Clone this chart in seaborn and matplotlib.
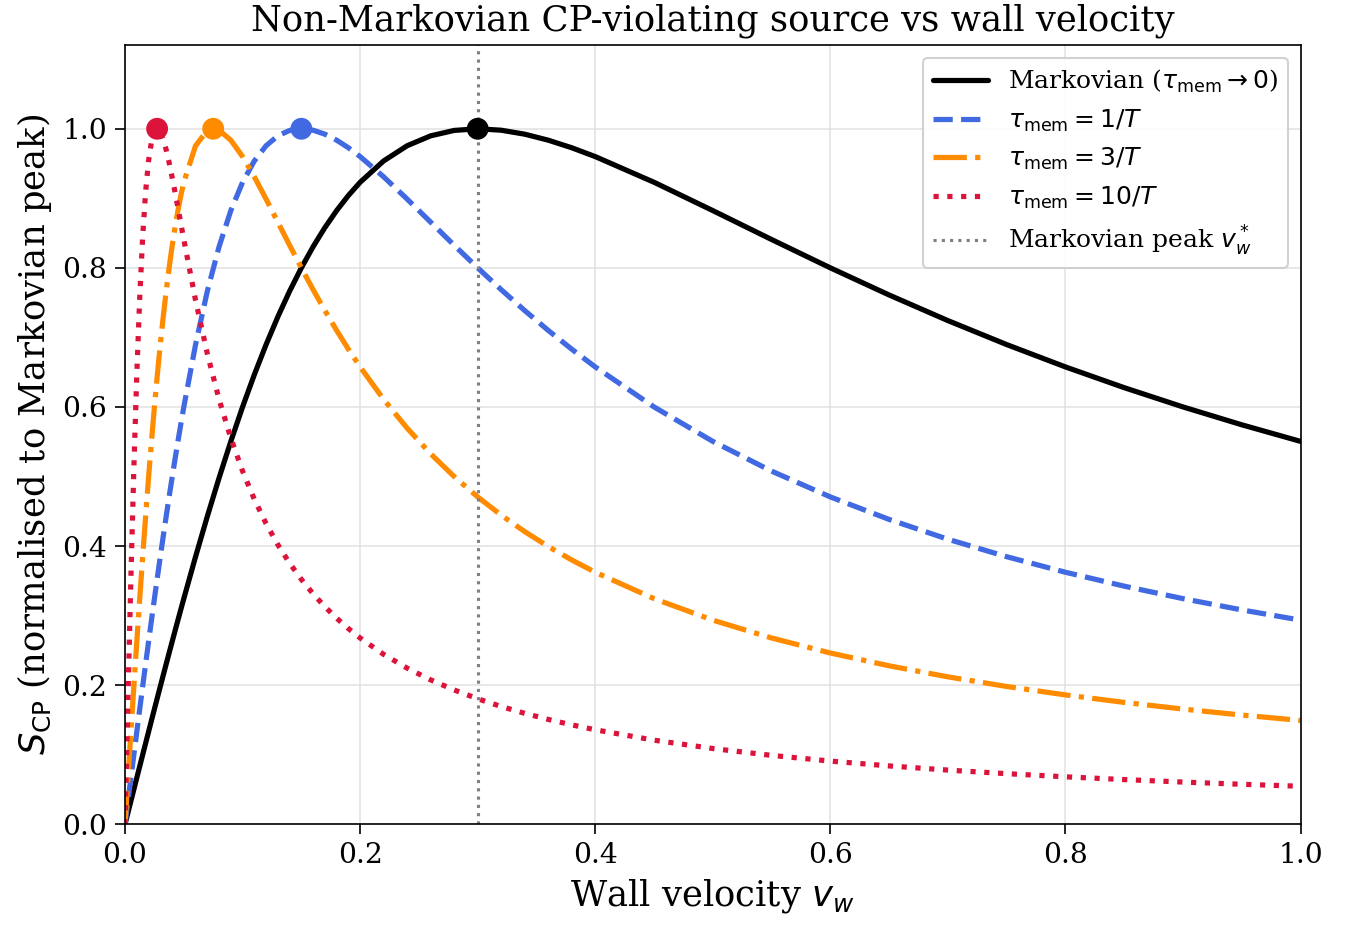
import matplotlib
matplotlib.use("Agg")
import matplotlib.pyplot as plt
import seaborn as sns
import pandas as pd

# Wall velocity samples
v_w = [0, 0.0025, 0.005, 0.0075, 0.01, 0.0125, 0.015, 0.0175, 0.02, 0.0225, 0.025,
       0.0275, 0.03, 0.0325, 0.035, 0.0375, 0.04, 0.0425, 0.045, 0.0475, 0.05,
       0.06, 0.07, 0.08, 0.09, 0.10, 0.11, 0.12, 0.13, 0.14, 0.15, 0.16, 0.17,
       0.18, 0.19, 0.20,
       0.22, 0.24, 0.26, 0.28, 0.30, 0.32, 0.34, 0.36, 0.38, 0.40,
       0.45, 0.50, 0.55, 0.60, 0.65, 0.70, 0.75, 0.80, 0.85, 0.90, 0.95, 1.00]

s_markov = [0, 0.01667, 0.03332, 0.04997, 0.06659, 0.08319, 0.09975, 0.11627, 0.13274, 0.14916, 0.16552,
            0.18181, 0.19802, 0.21415, 0.23020, 0.24615, 0.26201, 0.27776, 0.29340, 0.30892, 0.32432,
            0.38462, 0.44257, 0.49793, 0.55046, 0.60000, 0.64643, 0.68966, 0.72966, 0.76642, 0.80000,
            0.83045, 0.85786, 0.88235, 0.90404, 0.92308,
            0.95376, 0.97561, 0.98985, 0.99762, 1.00000, 0.99792, 0.99222, 0.98361, 0.97270, 0.96000,
            0.92308, 0.88235, 0.84076, 0.80000, 0.76098, 0.72414, 0.68966, 0.65753, 0.62769, 0.60000,
            0.57431, 0.55046]

s_tau1 = [0, 0.03332, 0.06659, 0.09975, 0.13274, 0.16552, 0.19802, 0.23020, 0.26201, 0.29340, 0.32432,
          0.35474, 0.38462, 0.41390, 0.44257, 0.47059, 0.49793, 0.52456, 0.55046, 0.57561, 0.60000,
          0.68966, 0.76642, 0.83045, 0.88235, 0.92308, 0.95376, 0.97561, 0.98985, 0.99762, 1.00000,
          0.99792, 0.99222, 0.98361, 0.97270, 0.96000,
          0.93089, 0.89888, 0.86570, 0.83250, 0.80000, 0.76862, 0.73859, 0.71006, 0.68305, 0.65753,
          0.60000, 0.55046, 0.50769, 0.47059, 0.43820, 0.40976, 0.38462, 0.36226, 0.34228, 0.32432,
          0.30811, 0.29340]

s_tau3 = [0, 0.06659, 0.13274, 0.19802, 0.26201, 0.32432, 0.38462, 0.44257, 0.49793, 0.55046, 0.60000,
          0.64643, 0.68966, 0.72966, 0.76642, 0.80000, 0.83045, 0.85786, 0.88235, 0.90404, 0.92308,
          0.97561, 0.99762, 0.99792, 0.98361, 0.96000, 0.93089, 0.89888, 0.86570, 0.83250, 0.80000,
          0.76862, 0.73859, 0.71006, 0.68305, 0.65753,
          0.61083, 0.56940, 0.53261, 0.49985, 0.47059, 0.44434, 0.42070, 0.39933, 0.37993, 0.36226,
          0.32432, 0.29340, 0.26775, 0.24615, 0.22774, 0.21185, 0.19802, 0.18587, 0.17511, 0.16552,
          0.15692, 0.14916]

s_tau10 = [0, 0.18181, 0.35474, 0.51133, 0.64643, 0.75753, 0.84453, 0.90906, 0.95376, 0.98178, 0.99623,
           0.99997, 0.99548, 0.98482, 0.96967, 0.95135, 0.93089, 0.90907, 0.88650, 0.86362, 0.84076,
           0.75342, 0.67652, 0.61083, 0.55509, 0.50769, 0.46715, 0.43222, 0.40189, 0.37537, 0.35200,
           0.33128, 0.31281, 0.29623, 0.28129, 0.26775,
           0.24418, 0.22437, 0.20751, 0.19297, 0.18033, 0.16923, 0.15940, 0.15065, 0.14281, 0.13573,
           0.12077, 0.10877, 0.09893, 0.09072, 0.08377, 0.07780, 0.07263, 0.06810, 0.06411, 0.06055,
           0.05737, 0.05451]

peak_v = [0.30, 0.15, 0.075, 0.0273]
peak_s = [1.0, 1.0, 1.0, 1.0]
markov_peak = 0.30

labels = [r"Markovian ($\tau_{\rm mem}\to 0$)", r"$\tau_{\rm mem}=1/T$",
          r"$\tau_{\rm mem}=3/T$", r"$\tau_{\rm mem}=10/T$"]
colors = ["black", "royalblue", "darkorange", "crimson"]
styles = ["-", "--", "-.", ":"]
series = [s_markov, s_tau1, s_tau3, s_tau10]

sns.set_style("ticks")
plt.rcParams["font.family"] = ["DejaVu Serif"]
plt.rcParams["mathtext.fontset"] = "dejavusans"
plt.rcParams["text.color"] = "black"
plt.rcParams["axes.labelcolor"] = "black"
plt.rcParams["xtick.color"] = "black"
plt.rcParams["ytick.color"] = "black"

fig, ax = plt.subplots(figsize=(9.06, 6.1667), dpi=150)
fig.subplots_adjust(left=0.092, right=0.957, top=0.951, bottom=0.109)

for s, lab, c, ls, pv, ps in zip(series, labels, colors, styles, peak_v, peak_s):
    df = pd.DataFrame({"v": v_w, "s": s})
    sns.lineplot(data=df, x="v", y="s", ax=ax, color=c, linestyle=ls, lw=2.5,
                 label=lab, sort=False)
    sns.scatterplot(x=[pv], y=[ps], ax=ax, color=c, s=110, edgecolor="none", zorder=5)

ax.axvline(markov_peak, color="gray", linestyle=":", lw=1.5, label=r"Markovian peak $v_w^*$")

ax.set_xlim(0, 1)
ax.set_ylim(0, 1.12)
ax.set_xticks([0, 0.2, 0.4, 0.6, 0.8, 1.0])
ax.set_yticks([0, 0.2, 0.4, 0.6, 0.8, 1.0])
ax.grid(True, color="#dddddd", lw=0.8, alpha=0.8)
for sp in ax.spines.values():
    sp.set_visible(True)
    sp.set_color("black")
ax.tick_params(labelsize=13.5, direction="out", length=5, color="black", labelcolor="black")

ax.set_xlabel(r"Wall velocity $v_w$", fontsize=17, color="black")
ax.set_ylabel(r"$S_{\rm CP}$ (normalised to Markovian peak)", fontsize=17, color="black")
ax.set_title("Non-Markovian CP-violating source vs wall velocity", fontsize=17, pad=7,
             color="black")

handles, labs = ax.get_legend_handles_labels()
leg = ax.legend(handles, labs, loc="upper right", fontsize=12, frameon=True,
                framealpha=0.9, edgecolor="#cccccc", handlelength=2.2)
for t in leg.get_texts():
    t.set_color("black")

fig.savefig("out.png", dpi=150)
